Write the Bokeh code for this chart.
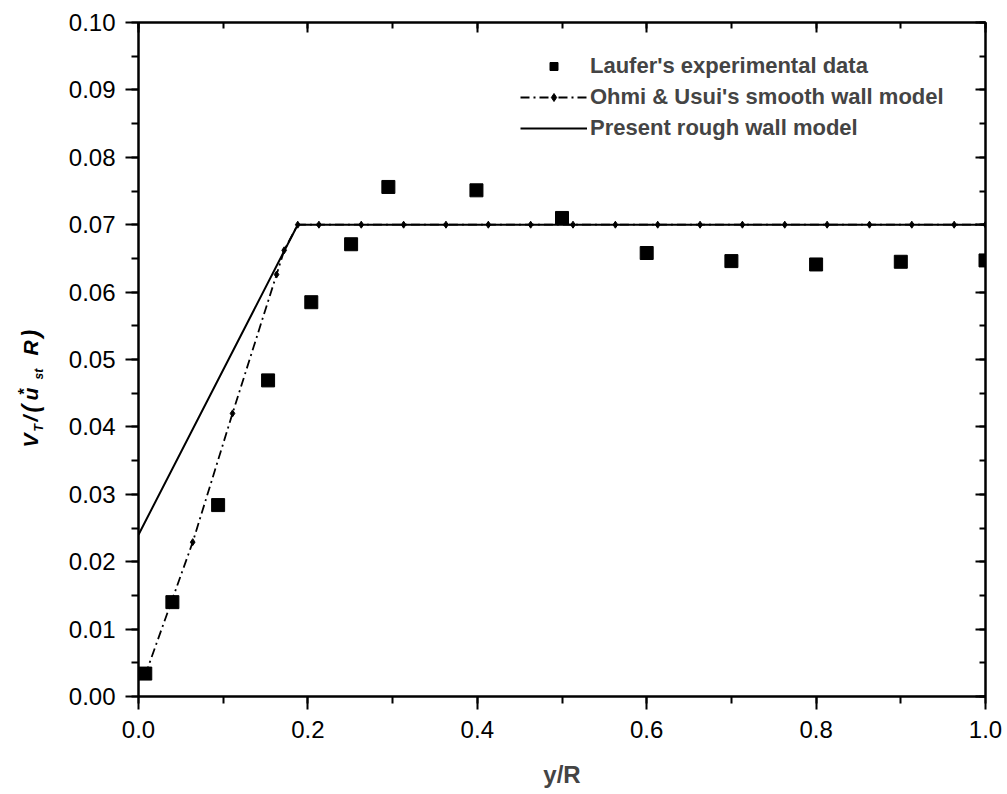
import math
from bokeh.plotting import figure
from bokeh.layouts import row
from bokeh.models import (Range1d, LinearAxis, SingleIntervalTicker, NumeralTickFormatter,
                          Legend, LegendItem)
from bokeh.core.properties import value
from bokeh.embed import file_html
from bokeh.resources import INLINE

# ---- data ----
laufer_x = [0.008, 0.040, 0.094, 0.153, 0.204, 0.251, 0.295, 0.399, 0.50, 0.60, 0.70, 0.80, 0.90, 1.00]
laufer_y = [0.0034, 0.0140, 0.0284, 0.0469, 0.0585, 0.0671, 0.0756, 0.0751, 0.0710, 0.0658, 0.0646, 0.0641, 0.0645, 0.0647]

smooth_x = [0.008, 0.064, 0.111, 0.163, 0.172, 0.188, 0.213, 0.263, 0.313, 0.363, 0.413, 0.463,
            0.513, 0.563, 0.613, 0.663, 0.713, 0.763, 0.813, 0.863, 0.913, 0.963, 1.0]
smooth_y = [0.0032, 0.0229, 0.0420, 0.0626, 0.0662, 0.0700, 0.0700, 0.0700, 0.0700, 0.0700, 0.0700, 0.0700,
            0.0700, 0.0700, 0.0700, 0.0700, 0.0700, 0.0700, 0.0700, 0.0700, 0.0700, 0.0700, 0.0700]

rough_x = [0.0, 0.188, 1.0]
rough_y = [0.0240, 0.0700, 0.0700]

legend_labels = ["Laufer's experimental data", "Ohmi & Usui's smooth wall model", "Present rough wall model"]
x_label = "y/R"
# y-axis label pieces: V_T/(u*_st R)
ylabel_parts = ["V", "T", "/", "(", "u", "*", "st", "R", ")"]

FONT = "Liberation Sans"
H = 794
LW = 50           # width of the strip holding the y-axis label
F_TOP, F_BOT = 22, 696   # frame top / bottom in page pixels

p = figure(width=1007 - LW, height=H, x_range=Range1d(0, 1.0), y_range=Range1d(0, 0.10),
           output_backend="svg", toolbar_location=None,
           min_border_left=138 - LW, min_border_right=22, min_border_top=F_TOP,
           min_border_bottom=H - F_BOT)
p.xgrid.visible = False
p.ygrid.visible = False
p.outline_line_color = "black"
p.outline_line_width = 2

xa = p.xaxis[0]
xa.ticker = SingleIntervalTicker(interval=0.2, num_minor_ticks=2)
xa.formatter = NumeralTickFormatter(format="0.0")
ya = p.yaxis[0]
ya.ticker = SingleIntervalTicker(interval=0.01, num_minor_ticks=2)
ya.formatter = NumeralTickFormatter(format="0.00")

for ax in (xa, ya):
    ax.axis_line_width = 2
    ax.axis_line_color = "black"
    ax.major_tick_line_width = 2
    ax.minor_tick_line_width = 2
    ax.major_tick_out = 13
    ax.major_tick_in = 0
    ax.minor_tick_out = 7
    ax.minor_tick_in = 0
    ax.major_label_text_font = FONT
    ax.major_label_text_font_size = "24px"
    ax.major_label_text_color = "black"
ya.major_label_standoff = 10
xa.major_label_standoff = 11

xa.axis_label = x_label
xa.axis_label_text_font = FONT
xa.axis_label_text_font_style = "bold"
xa.axis_label_text_font_size = "24px"
xa.axis_label_standoff = 20

top = LinearAxis(ticker=SingleIntervalTicker(interval=0.2, num_minor_ticks=2))
right = LinearAxis(ticker=SingleIntervalTicker(interval=0.01, num_minor_ticks=2))
for ax in (top, right):
    ax.axis_line_width = 2
    ax.major_tick_line_width = 2
    ax.minor_tick_line_width = 2
    ax.major_tick_in = 10
    ax.major_tick_out = 0
    ax.minor_tick_in = 6
    ax.minor_tick_out = 0
    ax.major_label_text_font_size = "0px"
    ax.major_label_standoff = 0
p.add_layout(top, "above")
p.add_layout(right, "right")

r_rough = p.line(rough_x, rough_y, line_width=2, line_color="black")
r_sm_line = p.line(smooth_x, smooth_y, line_width=1.8, line_color="black", line_dash="9 4 2 4")
r_sm_pts = p.scatter(smooth_x, smooth_y, marker="diamond", size=7, color="black")
r_sq = p.scatter(laufer_x, laufer_y, marker="square", size=13, color="black")

legend = Legend(items=[
    LegendItem(label=legend_labels[0], renderers=[r_sq]),
    LegendItem(label=legend_labels[1], renderers=[r_sm_line, r_sm_pts]),
    LegendItem(label=legend_labels[2], renderers=[r_rough]),
], location=(382, 555), border_line_color=None, background_fill_alpha=0,
    label_text_font=FONT, label_text_font_style="bold", label_text_font_size="22px",
    glyph_width=67, glyph_height=20, label_height=22, label_standoff=3, spacing=5,
    padding=0, margin=0)
p.add_layout(legend)

# strip for the rotated y-axis label; its frame is aligned with the main frame,
# so data y = F_BOT - page y
lab = figure(width=LW, height=H, x_range=Range1d(0, LW), y_range=Range1d(0, F_BOT - F_TOP),
             output_backend="svg", toolbar_location=None, x_axis_type=None, y_axis_type=None,
             min_border=0, min_border_left=0, min_border_right=0, min_border_top=0, min_border_bottom=0)
lab.outline_line_color = None
lab.xgrid.visible = False
lab.ygrid.visible = False

def piece(text, cx, cy, size, style="bold italic"):
    lab.text(x=[cx], y=[F_BOT - cy], text=[text], angle=math.pi / 2,
             text_font=value(FONT), text_font_style=style, text_font_size=value(size),
             text_align="left", text_baseline="alphabetic", text_color="black")

piece(ylabel_parts[0], 30, 447, "21px")
piece(ylabel_parts[1], 38, 431, "12px")
piece(ylabel_parts[2], 30, 421, "21px")
piece(ylabel_parts[3], 30, 412, "23px")
piece(ylabel_parts[4], 30, 400, "21px")
piece(ylabel_parts[5], 24, 394, "16px", "bold")
piece(ylabel_parts[6], 38, 379, "12px")
piece(ylabel_parts[7], 30, 355, "21px")
piece(ylabel_parts[8], 30, 337, "23px")

open("out.html", "w").write(file_html(row(lab, p), INLINE))
